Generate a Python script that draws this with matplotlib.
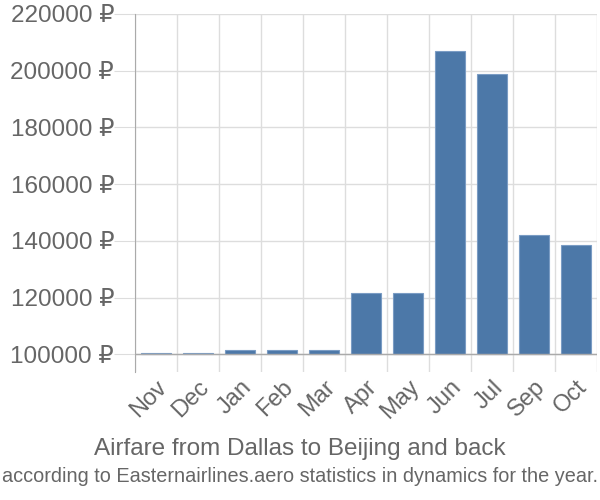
import numpy as np
import matplotlib
matplotlib.use('Agg')
from matplotlib import pyplot as plt

plt.rcParams['font.family'] = ['Liberation Sans', 'DejaVu Sans']

# data
months = ['Nov', 'Dec', 'Jan', 'Feb', 'Mar', 'Apr', 'May', 'Jun', 'Jul', 'Sep', 'Oct']
prices = [100500, 100500, 101700, 101700, 101700, 121600, 121600, 206800, 198800, 142200, 138500]
y_ticks = [100000, 120000, 140000, 160000, 180000, 200000, 220000]
base = 100000

fig = plt.figure(figsize=(6, 5), dpi=100)
ax = fig.add_axes([0.225, 0.256, 0.77, 0.716])

x = np.arange(len(months))
vals = np.array(prices) - base
ax.bar(x, vals, bottom=base, width=0.72, color='#4c78a8', edgecolor='#7a9cc4', linewidth=0.8, zorder=3)

ax.set_xlim(-0.5, len(months) - 0.5)
ax.set_ylim(93800, 220000)

# grid
for xv in np.arange(-0.5, len(months), 1):
    ax.axvline(xv, color='#dddddd', lw=1, zorder=0)
for yv in y_ticks:
    ax.axhline(yv, color='#dddddd', lw=1, zorder=0)
ax.axhline(base, color='#aaaaaa', lw=1, zorder=4)

ax.set_yticks(y_ticks)
ax.set_yticklabels([f'{v} ₽' for v in y_ticks], fontsize=17.5, color='#666666')
ax.set_xticks(x)
ax.set_xticklabels(months, rotation=45, ha='right', rotation_mode='anchor', fontsize=17, color='#666666')
ax.tick_params(axis='y', length=15, color='#dddddd', pad=0)
ax.tick_params(axis='x', length=0, pad=3)

for s in ['top', 'right', 'bottom']:
    ax.spines[s].set_visible(False)
ax.spines['left'].set_color('#aaaaaa')

fig.text(0.5, 0.103, 'Airfare from Dallas to Beijing and back', ha='center', va='center', fontsize=17.5, color='#666666')
fig.text(0.5, 0.048, 'according to Easternairlines.aero statistics in dynamics for the year.', ha='center', va='center', fontsize=14.3, color='#666666')

plt.savefig('out.png', dpi=100)
